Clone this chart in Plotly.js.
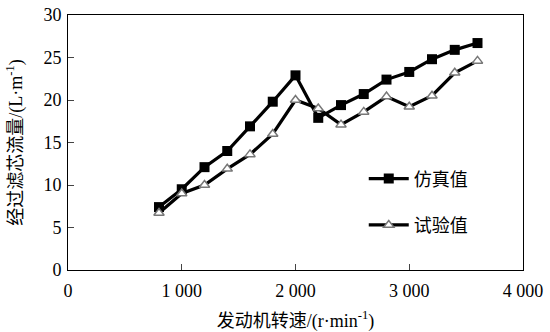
<!DOCTYPE html>
<html><head><meta charset="utf-8">
<script src="https://cdn.plot.ly/plotly-3.0.1.min.js"></script>
<style>body{margin:0;background:#fff}#c{width:550px;height:332px}</style>
</head><body><div id="c"></div>
<script>
const speeds = [800,1000,1200,1400,1600,1800,2000,2200,2400,2600,2800,3000,3200,3400,3600];
const simValues = [7.4,9.5,12.1,14.0,16.9,19.8,22.9,17.9,19.4,20.7,22.4,23.3,24.8,25.9,26.7];
const testValues = [6.7,9.0,10.0,11.9,13.6,16.0,20.0,19.0,17.1,18.6,20.4,19.2,20.5,23.2,24.6];
const xTicks = [0,1000,2000,3000,4000];
const xTickLabels = ['0','1 000','2 000','3 000','4 000'];
const yTicks = [0,5,10,15,20,25,30];
const seriesNames = ['仿真值','试验值'];

const font = 'Liberation Serif, Times New Roman, Noto Sans CJK SC, serif';
const traces = [
  {x: speeds, y: simValues, name: seriesNames[0], mode:'lines+markers', legendgroup:'a',
   line:{color:'#000', width:3.2}, marker:{symbol:'square', size:10, color:'#000'}},
  {x: speeds, y: testValues, name: seriesNames[1], mode:'lines+markers', legendgroup:'b',
   line:{color:'#000', width:3.2}, marker:{symbol:'triangle-up', size:9, color:'#fff', line:{color:'#777', width:1.5}}}
];
const layout = {
  width:550, height:332,
  margin:{l:68, r:27, t:15, b:62},
  paper_bgcolor:'#fff', plot_bgcolor:'#fff',
  font:{family:font, color:'#000', size:18},
  showlegend:true,
  legend:{x:0.65, y:0.43, xanchor:'left', yanchor:'top', bgcolor:'rgba(0,0,0,0)',
          font:{size:18, family:font}, tracegroupgap:20, traceorder:'grouped', itemwidth:40},
  xaxis:{range:[0,4000], tickvals:xTicks, ticktext:xTickLabels, ticks:'inside', ticklen:6,
         showline:true, linecolor:'#000', linewidth:1, mirror:true, showgrid:false, zeroline:false,
         ticklabelstandoff:4,
         tickfont:{size:18}, title:{text:'发动机转速/(r·min<sup>-1</sup>)', font:{size:18}}},
  yaxis:{range:[0,30], tickvals:yTicks, ticks:'inside', ticklen:6,
         showline:true, linecolor:'#000', linewidth:1, mirror:true, showgrid:false, zeroline:false,
         ticklabelstandoff:2,
         tickfont:{size:18}, title:{text:'经过滤芯流量/(L·m<sup>-1</sup>)', font:{size:18}}}
};
Plotly.newPlot('c', traces, layout, {displayModeBar:false, staticPlot:true});
</script></body></html>
